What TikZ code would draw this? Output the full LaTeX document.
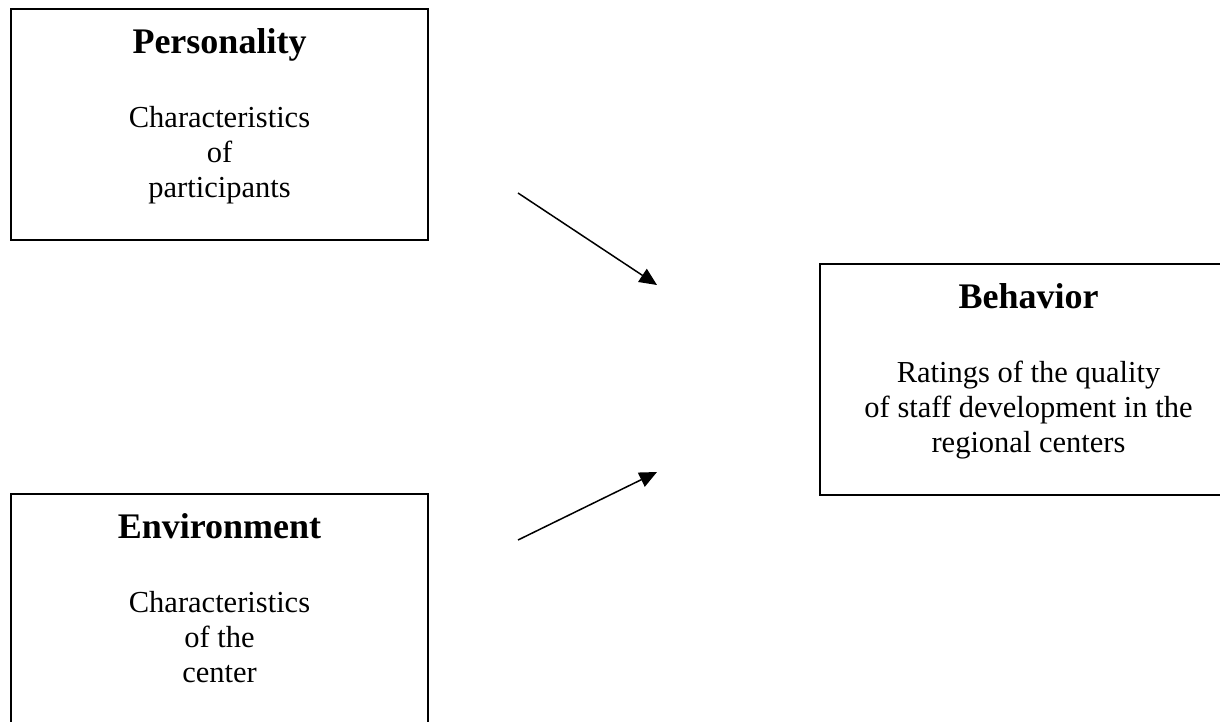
\documentclass[tikz,border=0pt]{standalone}
\usepackage{fontspec}
\setmainfont{Liberation Serif}
\usetikzlibrary{arrows.meta,positioning}
\tikzset{
    every picture/.style={
        x=0.4pt,y=-0.4pt,>={Triangle[length=7pt,width=6.2pt]},
        factor/.style={draw,line width=0.8pt,minimum width=166.8pt,minimum height=92.4pt,inner sep=0pt,anchor=north west},
        heading/.style={font=\fontsize{14.4}{17}\selectfont\bfseries,inner sep=0pt},
        details/.style={font=\fontsize{12.2}{14}\selectfont,align=center,inner sep=0pt},
        link/.style={->,line width=0.6pt}
    }
}

\begin{document}
\begin{tikzpicture}
    \useasboundingbox (0,0) rectangle (1220,721);
    \node[factor] (pers) at (10,8)   {};
    \node[factor] (env)  at (10,493) {};
    \node[factor] (beh)  at (819,263) {};
    \node[heading,below=18pt of pers.north,anchor=base] (pers-t) {Personality};
    \node[heading,below=18pt of env.north,anchor=base]  (env-t)  {Environment};
    \node[heading,below=18pt of beh.north,anchor=base]  (beh-t)  {Behavior};
    \node[details,below=39pt of pers.north] (pers-d) {Characteristics\\of\\participants};
    \node[details,below=39pt of env.north]  (env-d)  {Characteristics\\of the\\center};
    \node[details,below=39pt of beh.north]  (beh-d)  {Ratings of the quality\\of staff development in the\\regional centers};
    \coordinate (pers-out) at (518,193);
    \coordinate (env-out)  at (518,540);
    \coordinate (beh-in1)  at (657,285);
    \coordinate (beh-in2)  at (657,472);
    \draw[link] (pers-out) -- (beh-in1);
    \draw[link] (env-out) -- (beh-in2);
\end{tikzpicture}
\end{document}
